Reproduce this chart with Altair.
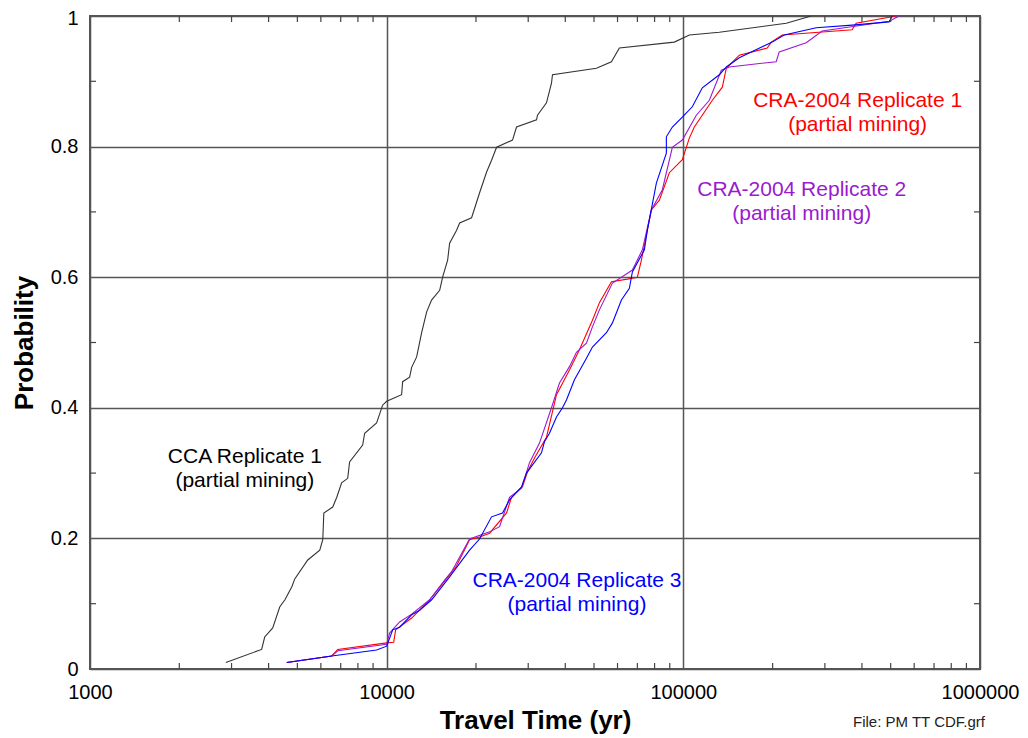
import altair as alt
import pandas as pd

FONT = "Liberation Sans"

# ---- data ----
cca_x = [2870, 3790, 3880, 4130, 4360, 4540, 4790, 4900, 5420, 5950, 6090, 6140, 6580, 6790,
         7050, 7390, 7500, 8300, 8430, 9250, 9690, 10000, 11230, 11320, 11950, 12140, 12620,
         13120, 13640, 14170, 15090, 15440, 16050, 16300, 17210, 17620, 19330, 20560, 21720,
         22570, 23470, 26560, 27400, 32000, 32240, 34570, 35940, 36220, 50940, 57230, 60870,
         93260, 104800, 132200, 222300, 269800]
cca_p = [0.01, 0.03, 0.049, 0.063, 0.095, 0.106, 0.126, 0.138, 0.167, 0.182, 0.198, 0.239,
         0.248, 0.263, 0.285, 0.292, 0.317, 0.343, 0.361, 0.377, 0.404, 0.41, 0.42, 0.44, 0.447,
         0.462, 0.478, 0.515, 0.547, 0.565, 0.58, 0.6, 0.626, 0.652, 0.672, 0.683, 0.691, 0.729,
         0.761, 0.779, 0.799, 0.81, 0.83, 0.841, 0.848, 0.867, 0.897, 0.91, 0.92, 0.93, 0.951,
         0.96, 0.971, 0.975, 0.989, 1.0]

rep1_x = [4605, 6530, 6840, 10000, 10560, 10720, 12140, 13960, 16300, 17200, 19030, 20560,
          22230, 25360, 26360, 28700, 29830, 31500, 34570, 37360, 41320, 44650, 49390, 52140,
          57230, 64790, 70000, 72210, 78030, 83020, 89720, 99230, 104760, 108900, 125260,
          135340, 139600, 154340, 191800, 197900, 215400, 370700, 382400, 521400]
rep1_p = [0.01, 0.02, 0.03, 0.04, 0.041, 0.06, 0.078, 0.106, 0.144, 0.158, 0.198, 0.202,
          0.208, 0.239, 0.263, 0.279, 0.302, 0.323, 0.355, 0.42, 0.458, 0.489, 0.534, 0.561,
          0.593, 0.597, 0.6, 0.626, 0.703, 0.718, 0.76, 0.78, 0.813, 0.83, 0.871, 0.891, 0.92,
          0.94, 0.951, 0.96, 0.971, 0.979, 0.989, 1.0]

rep2_x = [4605, 6530, 6840, 10000, 10230, 11060, 12140, 13960, 15680, 16550, 19030, 22230,
          24020, 25950, 28480, 30300, 32740, 35940, 38240, 41320, 43620, 47140, 49390, 52140,
          57680, 67340, 72770, 78030, 84970, 91830, 99230, 110600, 122380, 134300, 142880,
          205600, 210500, 259500, 293800, 493900, 533700]
rep2_p = [0.01, 0.02, 0.028, 0.038, 0.055, 0.072, 0.084, 0.106, 0.136, 0.149, 0.199, 0.21,
          0.218, 0.263, 0.277, 0.316, 0.346, 0.4, 0.438, 0.463, 0.485, 0.499, 0.524, 0.55,
          0.591, 0.611, 0.642, 0.703, 0.734, 0.799, 0.81, 0.848, 0.871, 0.917, 0.922, 0.93,
          0.945, 0.959, 0.977, 0.992, 1.0]

rep3_x = [4605, 6530, 9250, 10000, 10480, 11060, 12140, 12915, 14180, 16300, 19030, 20560,
          22570, 24580, 25950, 28480, 29600, 33250, 34030, 35380, 37360, 39140, 40370, 42950,
          47140, 49390, 55050, 57680, 61840, 65790, 67340, 73910, 75650, 81110, 87650, 87650,
          91830, 99230, 107230, 115870, 132240, 139600, 154340, 169400, 199400, 218800,
          280500, 370700, 493900, 505500]
rep3_p = [0.01, 0.02, 0.029, 0.035, 0.06, 0.064, 0.083, 0.09, 0.106, 0.141, 0.182, 0.199,
          0.233, 0.239, 0.259, 0.279, 0.3, 0.331, 0.348, 0.361, 0.386, 0.4, 0.412, 0.443,
          0.476, 0.493, 0.515, 0.53, 0.565, 0.583, 0.608, 0.642, 0.672, 0.744, 0.79, 0.815,
          0.83, 0.845, 0.861, 0.89, 0.91, 0.922, 0.936, 0.945, 0.96, 0.971, 0.982, 0.986,
          0.991, 1.0]

series_names = ["CCA", "Rep1", "Rep2", "Rep3"]
series_colors = ["#333333", "#ff0000", "#9a1ad0", "#0000ff"]

x_ticks = [1000, 10000, 100000, 1000000]
y_ticks = [0, 0.2, 0.4, 0.6, 0.8, 1]
x_minor = [2000, 3000, 4000, 5000, 6000, 7000, 8000, 9000,
           20000, 30000, 40000, 50000, 60000, 70000, 80000, 90000,
           200000, 300000, 400000, 500000, 600000, 700000, 800000, 900000]
y_minor = [0.1, 0.3, 0.5, 0.7, 0.9]

ann_text = ["CCA Replicate 1\n(partial mining)",
            "CRA-2004 Replicate 1\n(partial mining)",
            "CRA-2004 Replicate 2\n(partial mining)",
            "CRA-2004 Replicate 3\n(partial mining)"]
ann_x = [3326, 386800, 250600, 43790]
ann_p = [0.3155, 0.8606, 0.7243, 0.1256]
ann_colors = ["#000000", "#ff0000", "#9a1ad0", "#0000ff"]

footer = "File: PM TT CDF.grf"

# ---- tables ----
frames = []
for name, xs, ps in [("CCA", cca_x, cca_p), ("Rep1", rep1_x, rep1_p),
                     ("Rep2", rep2_x, rep2_p), ("Rep3", rep3_x, rep3_p)]:
    frames.append(pd.DataFrame({"series": name, "t": xs, "p": ps, "o": range(len(xs))}))
lines_df = pd.concat(frames, ignore_index=True)

W, H = 890, 653
xscale = alt.Scale(type="log", domain=[1000, 1000000], nice=False)
yscale = alt.Scale(domain=[0, 1], nice=False)

x_axis = alt.Axis(values=x_ticks, format="d", title="Travel Time (yr)", grid=True,
                  ticks=False, domain=False, labelFontSize=20, labelPadding=13,
                  labelFlush=False, titleFontSize=26, titleFontWeight="bold",
                  titleY=59, titleBaseline="alphabetic")
y_axis = alt.Axis(values=y_ticks, format="~g", title="Probability", grid=True,
                  ticks=False, domain=False, labelFontSize=20, labelPadding=12,
                  labelFlush=False, titleFontSize=26, titleFontWeight="bold",
                  titleX=-58, titleY=H / 2, titleAngle=270, titleAlign="center",
                  titleBaseline="alphabetic",
                  labelBaseline={"expr": "datum.value == 1 ? 'top' : 'middle'"},
                  labelOffset={"expr": "datum.value == 1 ? -8 : 0"})

X = alt.X("t:Q", scale=xscale, axis=x_axis)
Y = alt.Y("p:Q", scale=yscale, axis=y_axis)

lines = alt.Chart(lines_df).mark_line(strokeWidth=1.1).encode(
    x=X, y=Y,
    color=alt.Color("series:N", scale=alt.Scale(domain=series_names, range=series_colors),
                    legend=None),
    detail="series:N",
    order="o:Q",
)

xm = pd.DataFrame({"t": x_minor})
ym = pd.DataFrame({"p": y_minor})
tick_style = dict(color="#444444", strokeWidth=1.2)
xt_bottom = alt.Chart(xm).mark_rule(**tick_style).encode(
    x=X, y=alt.value(H), y2=alt.value(H - 6))
xt_top = alt.Chart(xm).mark_rule(**tick_style).encode(
    x=X, y=alt.value(0), y2=alt.value(6))
yt_left = alt.Chart(ym).mark_rule(**tick_style).encode(
    y=Y, x=alt.value(0), x2=alt.value(6))
yt_right = alt.Chart(ym).mark_rule(**tick_style).encode(
    y=Y, x=alt.value(W), x2=alt.value(W - 6))

ann_df = pd.DataFrame({"label": ann_text, "t": ann_x, "p": ann_p, "c": ann_colors})
ann = alt.Chart(ann_df).mark_text(fontSize=21, font=FONT, align="center",
                                  baseline="alphabetic", lineBreak="\n",
                                  lineHeight=24).encode(
    x=X, y=Y,
    text="label:N",
    color=alt.Color("c:N", scale=None),
)

foot = alt.Chart(pd.DataFrame({"f": [footer]})).mark_text(
    fontSize=15, font=FONT, align="right", baseline="alphabetic", color="#222222").encode(
    x=alt.value(895), y=alt.value(711), text="f:N")

chart = alt.layer(lines, xt_bottom, xt_top, yt_left, yt_right, ann, foot).properties(
    width=W, height=H,
    background="white",
    autosize=alt.AutoSizeParams(type="none"),
    padding={"left": 82, "top": 8, "right": 40, "bottom": 68},
).configure_view(stroke="#555555", strokeWidth=2).configure_axis(
    gridColor="#555555", gridWidth=1.5, gridOpacity=1,
    labelFont=FONT, titleFont=FONT, labelColor="#000000", titleColor="#000000",
)

chart.save("out.html", embed_options={"renderer": "svg", "actions": False})
